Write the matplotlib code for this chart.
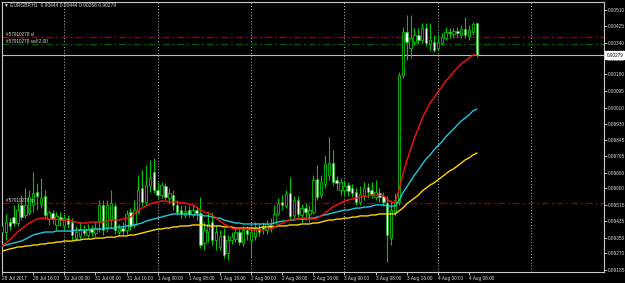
import numpy as np
import matplotlib
matplotlib.use("Agg")
import matplotlib.pyplot as plt
import matplotlib.transforms as mtransforms

plt.rcParams['font.family'] = ['Liberation Sans', 'DejaVu Sans']

# EURGBP H1 bars, 28 Jul 2017 08:00 .. 4 Aug 2017 10:00
opens = [0.89378, 0.89378, 0.89429, 0.89454, 0.89424, 0.89516, 0.89465, 0.89475, 0.89516, 0.89582,
         0.89521, 0.89561, 0.89444, 0.89475, 0.89414, 0.89454, 0.89409, 0.89449, 0.89429, 0.89347,
         0.89358, 0.89388, 0.89363, 0.89393, 0.89373, 0.89429, 0.89516, 0.89398, 0.89439, 0.89510,
         0.89378, 0.89398, 0.89388, 0.89480, 0.89414, 0.89480, 0.89602, 0.89531, 0.89612, 0.89684,
         0.89592, 0.89566, 0.89612, 0.89551, 0.89566, 0.89516, 0.89490, 0.89465, 0.89490, 0.89470,
         0.89490, 0.89475, 0.89322, 0.89378, 0.89429, 0.89337, 0.89302, 0.89363, 0.89271, 0.89337,
         0.89342, 0.89378, 0.89322, 0.89388, 0.89337, 0.89358, 0.89393, 0.89409, 0.89388, 0.89414,
         0.89409, 0.89475, 0.89531, 0.89510, 0.89577, 0.89465, 0.89541, 0.89465, 0.89500, 0.89470,
         0.89480, 0.89648, 0.89566, 0.89622, 0.89668, 0.89729, 0.89643, 0.89592, 0.89592, 0.89617,
         0.89602, 0.89582, 0.89531, 0.89561, 0.89607, 0.89592, 0.89556, 0.89577, 0.89561, 0.89526,
         0.89347, 0.89480, 0.89531, 0.90177, 0.90396, 0.90315, 0.90345, 0.90381, 0.90355, 0.90416,
         0.90335, 0.90345, 0.90315, 0.90340, 0.90366, 0.90396, 0.90386, 0.90401, 0.90381, 0.90411,
         0.90376, 0.90396, 0.90444]
highs = [0.89429, 0.89470, 0.89449, 0.89516, 0.89526, 0.89566, 0.89602, 0.89592, 0.89684, 0.89628,
         0.89653, 0.89592, 0.89490, 0.89490, 0.89480, 0.89480, 0.89470, 0.89465, 0.89449, 0.89409,
         0.89429, 0.89414, 0.89419, 0.89414, 0.89429, 0.89541, 0.89541, 0.89541, 0.89592, 0.89526,
         0.89419, 0.89429, 0.89490, 0.89500, 0.89541, 0.89668, 0.89694, 0.89719, 0.89745, 0.89755,
         0.89633, 0.89633, 0.89628, 0.89602, 0.89592, 0.89541, 0.89516, 0.89516, 0.89510, 0.89516,
         0.89505, 0.89556, 0.89429, 0.89480, 0.89480, 0.89414, 0.89388, 0.89398, 0.89363, 0.89378,
         0.89398, 0.89398, 0.89409, 0.89409, 0.89409, 0.89429, 0.89419, 0.89429, 0.89439, 0.89449,
         0.89516, 0.89551, 0.89566, 0.89592, 0.89658, 0.89561, 0.89561, 0.89521, 0.89526, 0.89516,
         0.89668, 0.89719, 0.89668, 0.89770, 0.89862, 0.89796, 0.89663, 0.89653, 0.89643, 0.89633,
         0.89622, 0.89602, 0.89612, 0.89633, 0.89628, 0.89633, 0.89643, 0.89602, 0.89582, 0.89561,
         0.89541, 0.89577, 0.90193, 0.90422, 0.90483, 0.90483, 0.90416, 0.90416, 0.90442, 0.90442,
         0.90442, 0.90381, 0.90386, 0.90391, 0.90422, 0.90416, 0.90416, 0.90422, 0.90432, 0.90472,
         0.90432, 0.90447, 0.90444]
lows = [0.89337, 0.89337, 0.89388, 0.89409, 0.89409, 0.89439, 0.89449, 0.89465, 0.89480, 0.89490,
        0.89500, 0.89449, 0.89414, 0.89419, 0.89388, 0.89409, 0.89388, 0.89398, 0.89337, 0.89332,
        0.89342, 0.89358, 0.89347, 0.89358, 0.89358, 0.89378, 0.89363, 0.89378, 0.89398, 0.89368,
        0.89358, 0.89363, 0.89368, 0.89388, 0.89398, 0.89470, 0.89510, 0.89516, 0.89582, 0.89577,
        0.89551, 0.89551, 0.89541, 0.89526, 0.89490, 0.89465, 0.89449, 0.89449, 0.89454, 0.89454,
        0.89439, 0.89296, 0.89286, 0.89327, 0.89312, 0.89286, 0.89286, 0.89246, 0.89236, 0.89317,
        0.89327, 0.89312, 0.89307, 0.89337, 0.89246, 0.89337, 0.89358, 0.89368, 0.89368, 0.89378,
        0.89398, 0.89465, 0.89490, 0.89500, 0.89444, 0.89449, 0.89449, 0.89429, 0.89439, 0.89429,
        0.89470, 0.89541, 0.89551, 0.89602, 0.89643, 0.89617, 0.89592, 0.89566, 0.89566, 0.89561,
        0.89556, 0.89516, 0.89516, 0.89541, 0.89551, 0.89551, 0.89541, 0.89531, 0.89510, 0.89225,
        0.89312, 0.89460, 0.89516, 0.90162, 0.90254, 0.90264, 0.90330, 0.90335, 0.90340, 0.90325,
        0.90305, 0.90294, 0.90305, 0.90330, 0.90355, 0.90366, 0.90366, 0.90371, 0.90366, 0.90366,
        0.90355, 0.90381, 0.90268]
closes = [0.89409, 0.89429, 0.89409, 0.89424, 0.89490, 0.89454, 0.89516, 0.89556, 0.89577, 0.89561,
          0.89551, 0.89465, 0.89480, 0.89444, 0.89460, 0.89439, 0.89449, 0.89419, 0.89363, 0.89378,
          0.89393, 0.89373, 0.89393, 0.89378, 0.89398, 0.89516, 0.89388, 0.89516, 0.89526, 0.89388,
          0.89398, 0.89383, 0.89470, 0.89409, 0.89490, 0.89592, 0.89531, 0.89617, 0.89653, 0.89592,
          0.89566, 0.89617, 0.89556, 0.89577, 0.89516, 0.89480, 0.89470, 0.89485, 0.89470, 0.89490,
          0.89475, 0.89312, 0.89388, 0.89419, 0.89337, 0.89378, 0.89358, 0.89261, 0.89337, 0.89352,
          0.89378, 0.89327, 0.89388, 0.89368, 0.89378, 0.89398, 0.89378, 0.89393, 0.89419, 0.89404,
          0.89470, 0.89526, 0.89516, 0.89572, 0.89460, 0.89541, 0.89470, 0.89500, 0.89480, 0.89490,
          0.89643, 0.89556, 0.89633, 0.89724, 0.89729, 0.89633, 0.89628, 0.89633, 0.89612, 0.89587,
          0.89577, 0.89531, 0.89572, 0.89602, 0.89582, 0.89572, 0.89582, 0.89556, 0.89531, 0.89363,
          0.89490, 0.89541, 0.90177, 0.90396, 0.90345, 0.90366, 0.90381, 0.90355, 0.90416, 0.90340,
          0.90355, 0.90305, 0.90345, 0.90371, 0.90396, 0.90391, 0.90401, 0.90391, 0.90411, 0.90381,
          0.90406, 0.90437, 0.90279]

# moving averages
ma_red = [0.89307, 0.89322, 0.89337, 0.89358, 0.89378, 0.89393, 0.89409, 0.89424, 0.89434, 0.89444,
          0.89449, 0.89449, 0.89444, 0.89444, 0.89444, 0.89439, 0.89439, 0.89439, 0.89434, 0.89429,
          0.89424, 0.89424, 0.89424, 0.89429, 0.89429, 0.89429, 0.89429, 0.89434, 0.89439, 0.89439,
          0.89439, 0.89444, 0.89449, 0.89454, 0.89470, 0.89485, 0.89500, 0.89510, 0.89521, 0.89526,
          0.89531, 0.89536, 0.89536, 0.89531, 0.89531, 0.89531, 0.89526, 0.89526, 0.89521, 0.89516,
          0.89505, 0.89490, 0.89480, 0.89475, 0.89465, 0.89449, 0.89434, 0.89419, 0.89409, 0.89398,
          0.89393, 0.89393, 0.89393, 0.89393, 0.89388, 0.89388, 0.89388, 0.89388, 0.89393, 0.89393,
          0.89404, 0.89414, 0.89424, 0.89434, 0.89439, 0.89444, 0.89444, 0.89449, 0.89449, 0.89444,
          0.89444, 0.89449, 0.89460, 0.89475, 0.89490, 0.89505, 0.89516, 0.89526, 0.89536, 0.89541,
          0.89546, 0.89551, 0.89556, 0.89561, 0.89561, 0.89566, 0.89566, 0.89566, 0.89561, 0.89546,
          0.89531, 0.89526, 0.89592, 0.89673, 0.89739, 0.89801, 0.89857, 0.89907, 0.89958, 0.89999,
          0.90035, 0.90060, 0.90091, 0.90116, 0.90147, 0.90167, 0.90192, 0.90213, 0.90233, 0.90248,
          0.90264, 0.90279, 0.90279]
ma_cyan = [0.89307, 0.89312, 0.89317, 0.89322, 0.89327, 0.89332, 0.89342, 0.89352, 0.89363, 0.89368,
           0.89373, 0.89378, 0.89378, 0.89378, 0.89383, 0.89383, 0.89383, 0.89383, 0.89383, 0.89388,
           0.89388, 0.89388, 0.89388, 0.89393, 0.89393, 0.89393, 0.89393, 0.89398, 0.89398, 0.89398,
           0.89404, 0.89404, 0.89409, 0.89409, 0.89414, 0.89419, 0.89424, 0.89434, 0.89439, 0.89444,
           0.89449, 0.89454, 0.89460, 0.89465, 0.89470, 0.89470, 0.89470, 0.89470, 0.89470, 0.89465,
           0.89465, 0.89465, 0.89460, 0.89460, 0.89454, 0.89449, 0.89449, 0.89439, 0.89434, 0.89429,
           0.89424, 0.89424, 0.89419, 0.89419, 0.89419, 0.89419, 0.89419, 0.89419, 0.89419, 0.89419,
           0.89424, 0.89429, 0.89434, 0.89434, 0.89439, 0.89439, 0.89444, 0.89444, 0.89444, 0.89449,
           0.89449, 0.89454, 0.89460, 0.89465, 0.89470, 0.89475, 0.89480, 0.89485, 0.89490, 0.89490,
           0.89495, 0.89500, 0.89500, 0.89505, 0.89505, 0.89510, 0.89516, 0.89516, 0.89516, 0.89510,
           0.89510, 0.89510, 0.89536, 0.89577, 0.89607, 0.89638, 0.89668, 0.89694, 0.89724, 0.89750,
           0.89770, 0.89796, 0.89816, 0.89836, 0.89862, 0.89882, 0.89902, 0.89923, 0.89943, 0.89958,
           0.89974, 0.89994, 0.90004]
ma_yellow = [0.89281, 0.89286, 0.89292, 0.89296, 0.89302, 0.89302, 0.89307, 0.89307, 0.89312, 0.89312,
             0.89317, 0.89317, 0.89322, 0.89322, 0.89327, 0.89327, 0.89332, 0.89332, 0.89332, 0.89337,
             0.89337, 0.89342, 0.89342, 0.89342, 0.89347, 0.89347, 0.89347, 0.89352, 0.89352, 0.89352,
             0.89358, 0.89358, 0.89358, 0.89363, 0.89363, 0.89368, 0.89373, 0.89378, 0.89383, 0.89388,
             0.89393, 0.89393, 0.89398, 0.89398, 0.89404, 0.89404, 0.89409, 0.89409, 0.89409, 0.89414,
             0.89414, 0.89414, 0.89414, 0.89409, 0.89409, 0.89409, 0.89409, 0.89404, 0.89404, 0.89404,
             0.89398, 0.89398, 0.89398, 0.89398, 0.89398, 0.89398, 0.89398, 0.89404, 0.89404, 0.89404,
             0.89404, 0.89409, 0.89409, 0.89409, 0.89414, 0.89414, 0.89414, 0.89419, 0.89419, 0.89419,
             0.89424, 0.89424, 0.89429, 0.89434, 0.89439, 0.89439, 0.89444, 0.89444, 0.89449, 0.89449,
             0.89454, 0.89454, 0.89460, 0.89460, 0.89460, 0.89465, 0.89465, 0.89470, 0.89470, 0.89470,
             0.89470, 0.89470, 0.89485, 0.89500, 0.89521, 0.89536, 0.89551, 0.89566, 0.89587, 0.89602,
             0.89617, 0.89628, 0.89643, 0.89658, 0.89673, 0.89689, 0.89699, 0.89714, 0.89729, 0.89745,
             0.89755, 0.89770, 0.89780]

price_ticks = [0.90510, 0.90425, 0.90340, 0.90260, 0.90180, 0.90095, 0.90010, 0.89930, 0.89845,
               0.89765, 0.89680, 0.89600, 0.89515, 0.89435, 0.89350, 0.89270, 0.89185]
time_labels = ["28 Jul 2017", "28 Jul 16:00", "31 Jul 00:00", "31 Jul 08:00", "31 Jul 16:00",
               "1 Aug 00:00", "1 Aug 08:00", "1 Aug 16:00", "2 Aug 00:00", "2 Aug 08:00",
               "2 Aug 16:00", "3 Aug 00:00", "3 Aug 08:00", "3 Aug 16:00", "4 Aug 00:00",
               "4 Aug 08:00"]
time_label_bars = [0, 8, 16, 24, 32, 40, 48, 56, 64, 72, 80, 88, 96, 104, 112, 120]
day_start_bars = [16, 40, 64, 88, 112, 136]

bid = 0.90279
header = "\u25bc EURGBP,H1  0.90444 0.90444 0.90268 0.90279"
order_prices = [0.90369, 0.90334, 0.89524]
order_labels = ["#57910278 sl", "#57910278 sell 2.00", "#57910278 tp"]
order_colors = ["#9a0000", "#005a00", "#8a0000"]

green = "#00c800"
fg = "#d8d8d8"

fig = plt.figure(figsize=(6.25, 2.83), dpi=100, facecolor="black")
ax = fig.add_axes([2 / 625, 11 / 283, 602 / 625, 270 / 283])
ax.set_facecolor("black")

x = np.arange(len(closes))
o = np.array(opens)
c = np.array(closes)

# grid: one dotted line per trading day
for b in day_start_bars:
    ax.axvline(b, color="#bdbdbd", lw=0.7, ls=(0, (1, 2)), zorder=1)

# order lines
ax.axhline(bid, color="#bdbdbd", lw=0.8, zorder=1.5)
for p, lab, col in zip(order_prices, order_labels, order_colors):
    ax.axhline(p, color=col, lw=1.0, ls=(0, (5, 2, 1.5, 2)), zorder=1.5)
    ax.text(0.006, p, lab, transform=mtransforms.blended_transform_factory(ax.transAxes, ax.transData),
            fontsize=3.3, color=fg, ha="left", va="bottom", zorder=6)

# candles
ax.vlines(x, lows, highs, color=green, lw=0.8, zorder=2)
up = c >= o
ax.bar(x[up], (c - o)[up], bottom=o[up], width=0.62, color="black",
       edgecolor=green, linewidth=0.6, zorder=3)
ax.bar(x[~up], (c - o)[~up], bottom=o[~up], width=0.62, color="white",
       edgecolor=green, linewidth=0.4, zorder=3)

# moving averages
ax.plot(x, ma_yellow, color="#ffd400", lw=1.0, zorder=4)
ax.plot(x, ma_cyan, color="#20c8e0", lw=1.0, zorder=4)
ax.plot(x, ma_red, color="#ff1010", lw=1.0, zorder=4)

ax.set_xlim(0.36, 154.7)
ax.set_ylim(0.891745, 0.90549)

ax.yaxis.tick_right()
ax.set_yticks(price_ticks)
ax.set_yticklabels(["%.5f" % p for p in price_ticks])
ax.set_xticks(time_label_bars)
ax.set_xticklabels(time_labels, ha="left")
ax.tick_params(axis="y", colors=fg, labelsize=3.4, length=2, width=0.6, pad=1)
ax.tick_params(axis="x", colors=fg, labelsize=3.4, length=2, width=0.6, pad=1.2)
for s in ax.spines.values():
    s.set_color("#c8c8c8")
    s.set_linewidth(0.8)

# current price box on the price scale
ax.text(1.004, bid, "%.5f" % bid,
        transform=mtransforms.blended_transform_factory(ax.transAxes, ax.transData),
        fontsize=3.4, color="black", ha="left", va="center", zorder=10, clip_on=False,
        bbox=dict(boxstyle="square,pad=0.25", fc="white", ec="white"))

fig.text(4 / 625, 1 - 5 / 283, header, fontsize=3.5, color=fg, ha="left", va="center")

fig.savefig("out.png", dpi=100, facecolor="black")
